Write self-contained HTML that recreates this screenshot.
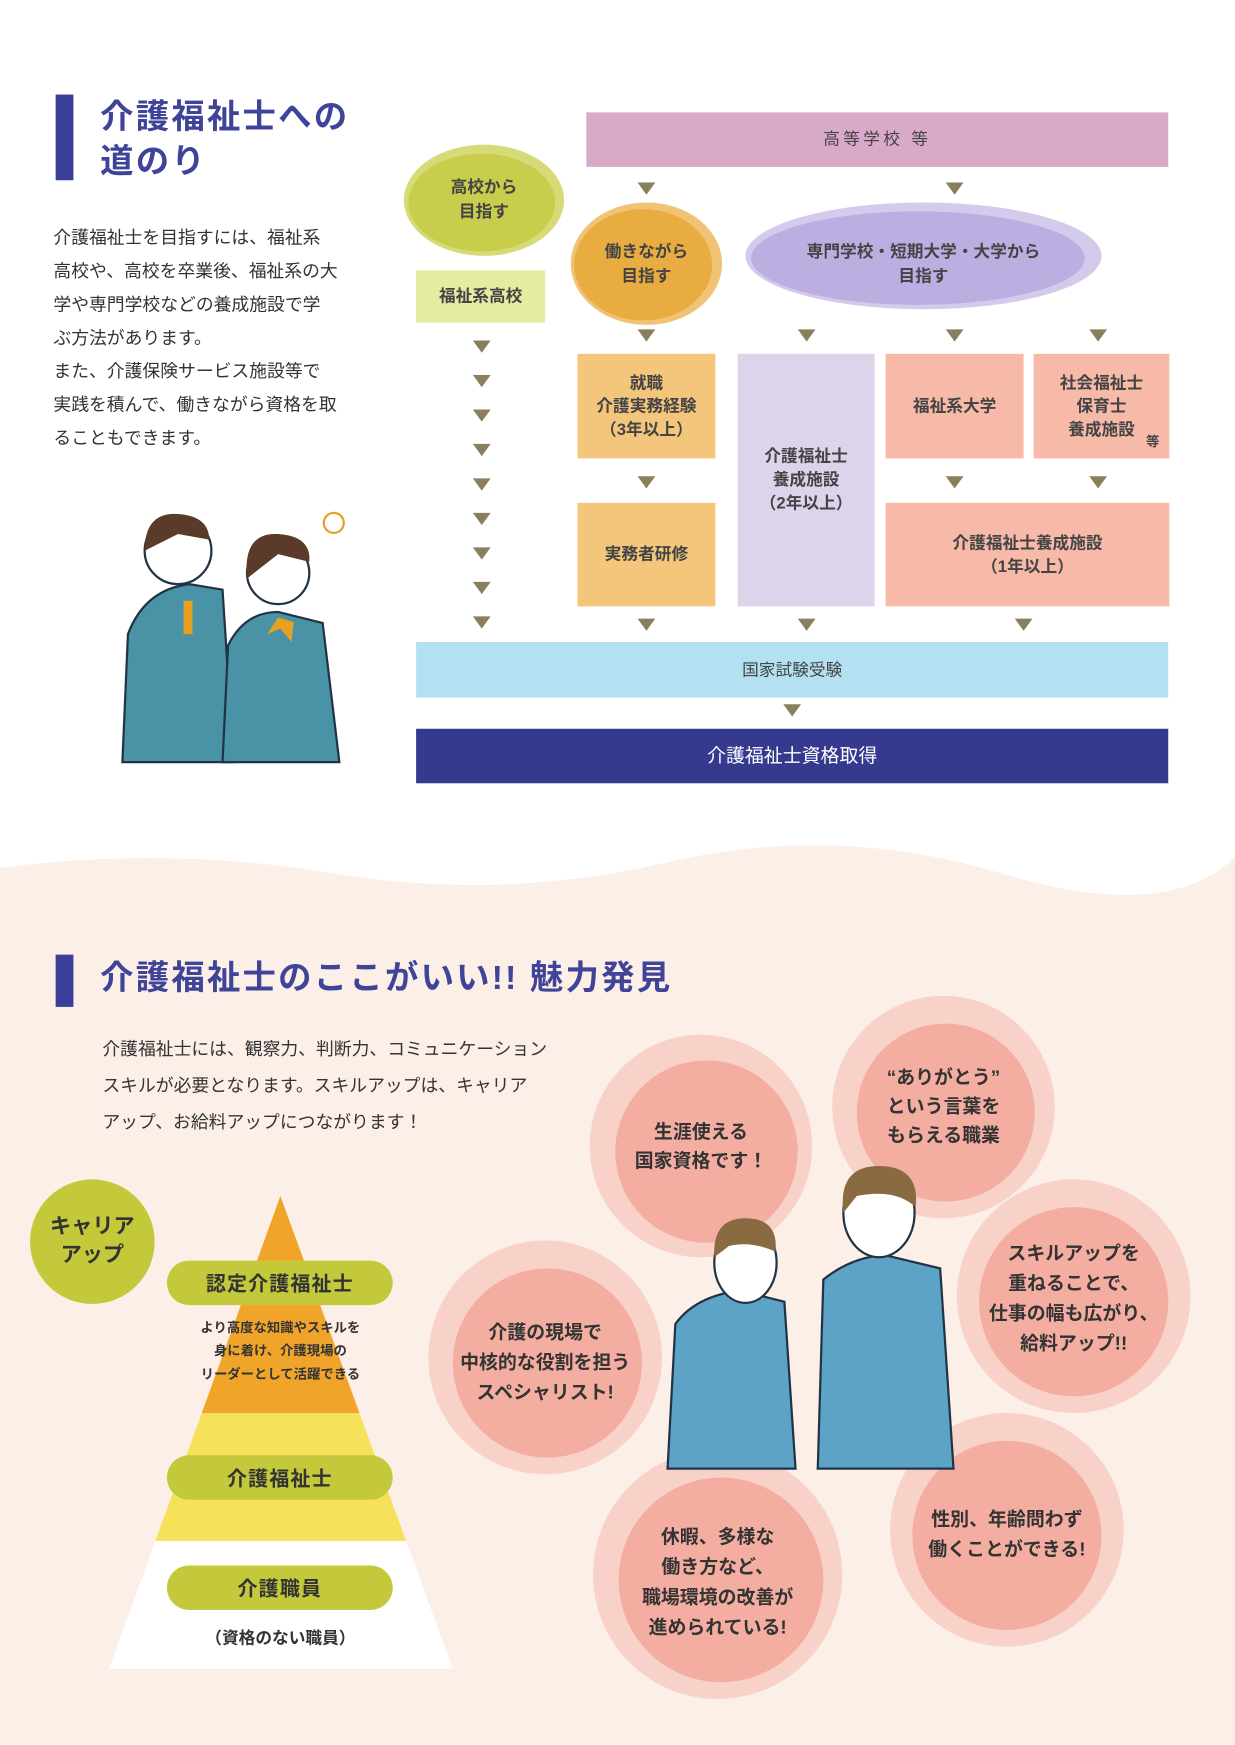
<!DOCTYPE html>
<html><head><meta charset="utf-8"><style>
html,body{margin:0;padding:0;width:1235px;height:1744px;overflow:hidden;background:#fff}
#w{position:absolute;left:0;top:0;width:1110px;height:1568px;transform:scale(1.11261);transform-origin:0 0;font-family:"Liberation Sans","Noto Sans CJK JP",sans-serif;color:#333}
.a{position:absolute}
.box{position:absolute;display:flex;align-items:center;justify-content:center;text-align:center;font-weight:bold;font-size:15px;color:#444;line-height:1.4}
.tri{position:absolute;width:0;height:0;border-left:8px solid transparent;border-right:8px solid transparent;border-top:11px solid #8a7f5c}
.t{position:absolute;font-weight:bold;text-align:center;color:#444}
.pill{position:absolute;left:150px;width:203px;height:40px;border-radius:20px;background:#c3c93a;display:flex;align-items:center;justify-content:center;font-weight:bold;font-size:18px;color:#333;letter-spacing:1px}
</style></head><body><div id="w">
<!-- bottom bg -->
<svg class="a" style="left:0;top:740px" width="1110" height="828"><path d="M0 40 Q150 20 300 45 T600 35 T900 45 T1110 30 L1110 828 L0 828Z" fill="#fcefe8"/></svg>

<!-- section 1 -->
<div class="a" style="left:50px;top:85px;width:16px;height:77px;background:#3c3f9a"></div>
<div class="a" style="left:90px;top:86px;font-size:30px;font-weight:bold;color:#3f4499;line-height:40px;letter-spacing:2px">介護福祉士への<br>道のり</div>
<div class="a" style="left:48px;top:200px;font-size:16px;line-height:30px;color:#333;width:300px">介護福祉士を目指すには、福祉系<br>高校や、高校を卒業後、福祉系の大<br>学や専門学校などの養成施設で学<br>ぶ方法があります。<br>また、介護保険サービス施設等で<br>実践を積んで、働きながら資格を取<br>ることもできます。</div>

<!-- students illustration -->
<svg class="a" style="left:100px;top:450px" width="220" height="240">
<path d="M10 235 L15 120 Q30 80 70 75 L100 80 L110 235Z" fill="#4a93a6" stroke="#234" stroke-width="2"/>
<circle cx="60" cy="45" r="30" fill="#fff" stroke="#234" stroke-width="2"/>
<path d="M30 45 Q30 10 60 12 Q88 14 88 35 L60 30Z" fill="#5a3a28"/>
<rect x="65" y="90" width="8" height="30" fill="#e8a020"/>
<path d="M100 235 L105 130 Q120 100 150 100 L190 110 L205 235Z" fill="#4a93a6" stroke="#234" stroke-width="2"/>
<circle cx="150" cy="65" r="28" fill="#fff" stroke="#234" stroke-width="2"/>
<path d="M122 70 Q118 28 150 30 Q180 32 178 55 L150 48Z" fill="#5a3a28"/>
<path d="M150 105 l-10 15 l12 -5 l10 12 l2 -18Z" fill="#e8a020"/>
<circle cx="200" cy="20" r="9" fill="none" stroke="#e8a020" stroke-width="2"/>
</svg>

<div class="box" style="left:527px;top:101px;width:523px;height:49px;background:#d9a9c9;font-weight:normal;letter-spacing:3px">高等学校 等</div>
<svg class="a" style="left:355px;top:125px" width="160" height="110"><ellipse cx="80" cy="55" rx="72" ry="50" fill="#c9cf4a" opacity=".75"/><ellipse cx="78" cy="57" rx="66" ry="44" fill="#c2c83a" opacity=".7"/></svg>
<div class="t" style="left:385px;top:158px;width:100px;font-size:15px;line-height:22px">高校から<br>目指す</div>
<div class="box" style="left:374px;top:243px;width:116px;height:47px;background:#e6eba2">福祉系高校</div>

<svg class="a" style="left:508px;top:180px" width="145" height="115"><ellipse cx="73" cy="57" rx="68" ry="55" fill="#eaa93a" opacity=".7"/><ellipse cx="70" cy="58" rx="62" ry="50" fill="#e5a22a" opacity=".7"/></svg>
<div class="t" style="left:531px;top:216px;width:100px;font-size:15px;line-height:22px">働きながら<br>目指す</div>
<svg class="a" style="left:665px;top:175px" width="330" height="110"><ellipse cx="165" cy="55" rx="160" ry="48" fill="#c2b4e4" opacity=".7"/><ellipse cx="160" cy="57" rx="150" ry="42" fill="#b3a2dc" opacity=".7"/></svg>
<div class="t" style="left:680px;top:216px;width:300px;font-size:15px;line-height:22px">専門学校・短期大学・大学から<br>目指す</div>

<div class="tri" style="left:573px;top:164px"></div><div class="tri" style="left:850px;top:164px"></div>
<div class="tri" style="left:573px;top:296px"></div><div class="tri" style="left:717px;top:296px"></div><div class="tri" style="left:850px;top:296px"></div><div class="tri" style="left:979px;top:296px"></div>
<div class="tri" style="left:573px;top:428px"></div><div class="tri" style="left:850px;top:428px"></div><div class="tri" style="left:979px;top:428px"></div>
<div class="tri" style="left:425px;top:306px"></div><div class="tri" style="left:425px;top:337px"></div><div class="tri" style="left:425px;top:368px"></div><div class="tri" style="left:425px;top:399px"></div><div class="tri" style="left:425px;top:430px"></div><div class="tri" style="left:425px;top:461px"></div><div class="tri" style="left:425px;top:492px"></div><div class="tri" style="left:425px;top:523px"></div><div class="tri" style="left:425px;top:554px"></div>
<div class="tri" style="left:573px;top:556px"></div><div class="tri" style="left:717px;top:556px"></div><div class="tri" style="left:912px;top:556px"></div>
<div class="tri" style="left:704px;top:633px"></div>

<div class="box" style="left:519px;top:318px;width:124px;height:94px;background:#f4c67c">就職<br>介護実務経験<br>（3年以上）</div>
<div class="box" style="left:663px;top:318px;width:123px;height:227px;background:#ddd4ec">介護福祉士<br>養成施設<br>（2年以上）</div>
<div class="box" style="left:796px;top:318px;width:124px;height:94px;background:#f7baa9">福祉系大学</div>
<div class="box" style="left:929px;top:318px;width:122px;height:94px;background:#f7baa9">社会福祉士<br>保育士<br>養成施設</div>
<div class="a" style="left:1030px;top:388px;font-size:12px;font-weight:bold;color:#444">等</div>
<div class="box" style="left:519px;top:452px;width:124px;height:93px;background:#f4c67c">実務者研修</div>
<div class="box" style="left:796px;top:452px;width:255px;height:93px;background:#f7baa9">介護福祉士養成施設<br>（1年以上）</div>
<div class="box" style="left:374px;top:577px;width:676px;height:50px;background:#b4e1f1;font-weight:normal">国家試験受験</div>
<div class="box" style="left:374px;top:655px;width:676px;height:49px;background:#363a8f;color:#fff;font-size:17px;font-weight:normal">介護福祉士資格取得</div>

<!-- section 2 -->
<div class="a" style="left:50px;top:858px;width:16px;height:47px;background:#3c3f9a"></div>
<div class="a" style="left:90px;top:860px;font-size:30px;font-weight:bold;color:#3f4499;line-height:40px;letter-spacing:2px">介護福祉士のここがいい!! 魅力発見</div>
<div class="a" style="left:92px;top:927px;font-size:16px;line-height:33px;color:#333">介護福祉士には、観察力、判断力、コミュニケーション<br>スキルが必要となります。スキルアップは、キャリア<br>アップ、お給料アップにつながります！</div>

<div class="a" style="left:27px;top:1060px;width:112px;height:112px;border-radius:50%;background:#c3c93a"></div>
<div class="t" style="left:27px;top:1090px;width:112px;font-size:19px;line-height:26px;color:#333">キャリア<br>アップ</div>
<svg class="a" style="left:95px;top:1070px" width="315" height="435">
<defs><clipPath id="c"><polygon points="157,5 3,430 312,430"/></clipPath></defs>
<g clip-path="url(#c)"><rect x="0" y="0" width="315" height="200" fill="#f0a52a"/><rect x="0" y="200" width="315" height="115" fill="#f6e25a"/><rect x="0" y="315" width="315" height="120" fill="#fff"/></g>
</svg>
<div class="pill" style="top:1133px">認定介護福祉士</div>
<div class="t" style="left:152px;top:1183px;width:200px;font-size:12px;line-height:21px;color:#333">より高度な知識やスキルを<br>身に着け、介護現場の<br>リーダーとして活躍できる</div>
<div class="pill" style="top:1308px">介護福祉士</div>
<div class="pill" style="top:1407px">介護職員</div>
<div class="t" style="left:152px;top:1461px;width:200px;font-size:15px;color:#333">（資格のない職員）</div>

<svg class="a" style="left:380px;top:880px" width="730" height="650">
<g fill="#ef8f80">
<circle cx="250" cy="150" r="100" opacity=".3"/><circle cx="255" cy="155" r="82" opacity=".55"/>
<circle cx="468" cy="115" r="100" opacity=".3"/><circle cx="470" cy="120" r="80" opacity=".55"/>
<circle cx="585" cy="285" r="105" opacity=".3"/><circle cx="585" cy="290" r="85" opacity=".55"/>
<circle cx="110" cy="340" r="105" opacity=".3"/><circle cx="112" cy="345" r="85" opacity=".55"/>
<circle cx="265" cy="535" r="112" opacity=".3"/><circle cx="268" cy="540" r="92" opacity=".55"/>
<circle cx="525" cy="495" r="105" opacity=".3"/><circle cx="525" cy="500" r="85" opacity=".55"/>
</g></svg>
<div class="t" style="left:530px;top:1005px;width:200px;font-size:17px;line-height:26px;color:#333">生涯使える<br>国家資格です！</div>
<div class="t" style="left:748px;top:956px;width:200px;font-size:17px;line-height:26px;color:#333">“ありがとう”<br>という言葉を<br>もらえる職業</div>
<div class="t" style="left:865px;top:1113px;width:200px;font-size:17px;line-height:27px;color:#333">スキルアップを<br>重ねることで、<br>仕事の幅も広がり、<br>給料アップ!!</div>
<div class="t" style="left:390px;top:1184px;width:200px;font-size:17px;line-height:27px;color:#333">介護の現場で<br>中核的な役割を担う<br>スペシャリスト!</div>
<div class="t" style="left:545px;top:1368px;width:200px;font-size:17px;line-height:27px;color:#333">休暇、多様な<br>働き方など、<br>職場環境の改善が<br>進められている!</div>
<div class="t" style="left:805px;top:1352px;width:200px;font-size:17px;line-height:27px;color:#333">性別、年齢問わず<br>働くことができる!</div>

<svg class="a" style="left:595px;top:1040px" width="270" height="285">
<path d="M5 280 L12 150 Q30 125 70 120 L110 130 L120 280Z" fill="#5da3c6" stroke="#234" stroke-width="2"/>
<ellipse cx="75" cy="95" rx="28" ry="36" fill="#fff" stroke="#234" stroke-width="2"/>
<path d="M47 90 Q45 55 75 55 Q105 55 102 85 Q80 75 60 80Z" fill="#8a6a40"/>
<path d="M140 280 L145 110 Q170 90 200 88 L250 100 L262 280Z" fill="#5da3c6" stroke="#234" stroke-width="2"/>
<ellipse cx="195" cy="50" rx="32" ry="40" fill="#fff" stroke="#234" stroke-width="2"/>
<path d="M163 50 Q158 8 195 8 Q232 8 228 45 Q210 28 175 35Z" fill="#8a6a40"/>
</svg>
</div></body></html>
